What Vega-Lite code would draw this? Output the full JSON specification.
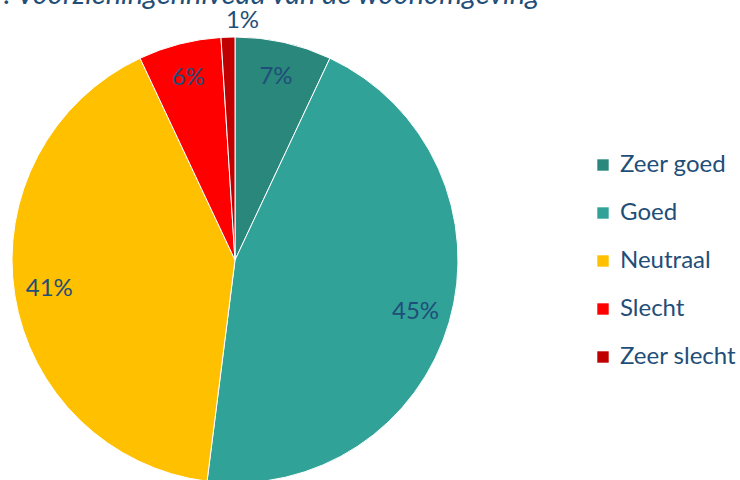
{
  "$schema": "https://vega.github.io/schema/vega-lite/v6.json",
  "width": 470,
  "height": 446,
  "autosize": "none",
  "padding": {"left": 0, "top": 37, "right": 270, "bottom": 0},
  "background": "white",
  "title": {
    "text": "Figuur 7: Voorzieningenniveau van de woonomgeving",
    "anchor": "start",
    "frame": "group",
    "dx": -96,
    "dy": 1,
    "offset": 0,
    "font": "Lato",
    "fontStyle": "italic",
    "fontWeight": "normal",
    "fontSize": 29,
    "color": "#1F4E79"
  },
  "data": {
    "values": [
      {"categorie": "Zeer goed", "aandeel": 0.07, "volgorde": 1},
      {"categorie": "Goed", "aandeel": 0.45, "volgorde": 2},
      {"categorie": "Neutraal", "aandeel": 0.41, "volgorde": 3},
      {"categorie": "Slecht", "aandeel": 0.06, "volgorde": 4},
      {"categorie": "Zeer slecht", "aandeel": 0.01, "volgorde": 5}
    ]
  },
  "encoding": {
    "theta": {"field": "aandeel", "type": "quantitative", "stack": true},
    "order": {"field": "volgorde", "type": "quantitative"}
  },
  "layer": [
    {
      "mark": {"type": "arc", "outerRadius": 223, "stroke": "white", "strokeWidth": 1},
      "encoding": {
        "color": {
          "field": "categorie",
          "type": "nominal",
          "scale": {
            "domain": ["Zeer goed", "Goed", "Neutraal", "Slecht", "Zeer slecht"],
            "range": ["#2A877B", "#31A298", "#FFC000", "#FF0000", "#C00000"]
          },
          "legend": {
            "title": null,
            "orient": "none",
            "legendX": 591,
            "legendY": 116,
            "symbolType": "square",
            "symbolSize": 130,
            "symbolStrokeWidth": 0,
            "labelFont": "Lato",
            "labelFontSize": 24,
            "labelColor": "#1F4E79",
            "labelOffset": 5,
            "rowPadding": 24,
            "padding": 0,
            "labelLimit": 300
          }
        }
      }
    },
    {
      "transform": [{"filter": "datum.aandeel >= 0.02"}],
      "mark": {"type": "text", "radius": 188, "font": "Lato", "fontSize": 24, "color": "#1F4E79"},
      "encoding": {
        "text": {"field": "aandeel", "type": "quantitative", "format": ".0%"}
      }
    },
    {
      "transform": [{"filter": "datum.aandeel < 0.02"}],
      "mark": {"type": "text", "radius": 239, "font": "Lato", "fontSize": 24, "color": "#1F4E79"},
      "encoding": {
        "text": {"field": "aandeel", "type": "quantitative", "format": ".0%"}
      }
    }
  ],
  "config": {"view": {"stroke": null}}
}
